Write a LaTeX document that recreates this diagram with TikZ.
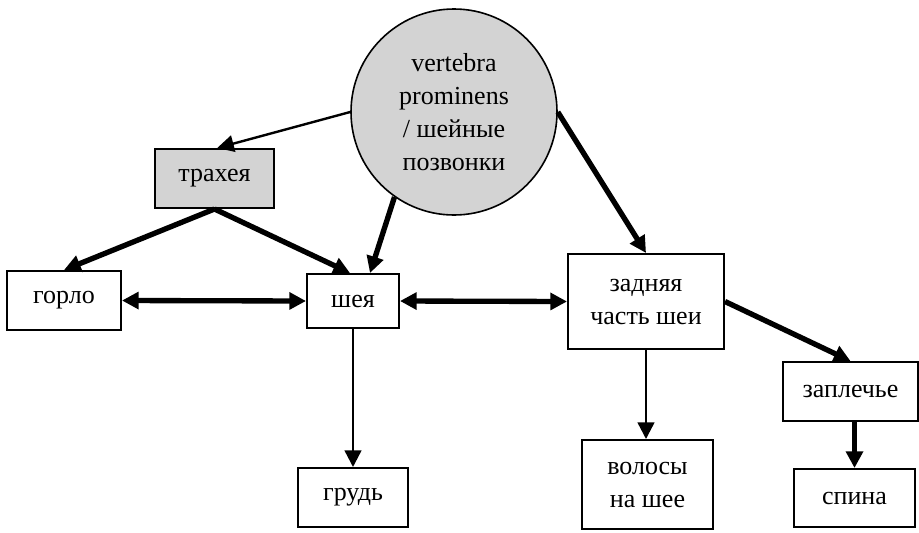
\documentclass[tikz,border=0pt]{standalone}
\usepackage{fontspec}
\setmainfont{Liberation Serif}
\usetikzlibrary{arrows.meta,calc}
\definecolor{boxgray}{RGB}{211,211,211}
\tikzset{
  lbl/.style={font=\fontsize{19.5}{24.75}\selectfont, align=center, inner sep=0pt},
  box/.style={lbl, draw, line width=1.5pt, rectangle},
  graybox/.style={box, fill=boxgray},
  circnode/.style={lbl, draw, line width=1.2pt, circle, fill=boxgray},
  thinarr/.style={line width=1.8pt, -{Triangle[length=12.5pt,width=12.5pt]}},
  fatarr/.style={line width=4pt, -{Triangle[length=12.5pt,width=12.5pt]}},
  dblarr/.style={line width=4pt, {Triangle[length=12.5pt,width=12.5pt]}-{Triangle[length=12.5pt,width=12.5pt]}}
}
\begin{document}
\begin{tikzpicture}[x=0.75pt,y=-0.75pt]
\useasboundingbox (0,0) rectangle (919,532);
\node[circnode, minimum size=154.5pt] (vp) at (454,112) {vertebra\\prominens\\/ шейные\\позвонки};
\node[graybox, minimum width=89.25pt, minimum height=44.25pt] (tr) at (214.5,178.5) {трахея};
\node[box, minimum width=85.5pt, minimum height=44.25pt] (go) at (64,300.5) {горло};
\node[box, minimum width=69pt, minimum height=40.5pt] (sh) at (353,301) {шея};
\node[box, minimum width=117pt, minimum height=71.25pt] (zc) at (646,301.5) {задняя\\часть шеи};
\node[box, minimum width=101.25pt, minimum height=44.25pt] (zp) at (850.5,391.5) {заплечье};
\node[box, minimum width=90.75pt, minimum height=43.5pt] (sp) at (854.5,498) {спина};
\node[box, minimum width=82.5pt, minimum height=44.25pt] (gr) at (353,497.5) {грудь};
\node[box, minimum width=98.25pt, minimum height=66.75pt] (vo) at (647.5,484.5) {волосы\\на шее};
\coordinate (shin) at ([xshift=12.75pt]sh.north);
\coordinate (trin) at ([xshift=-2.25pt]sh.north);
\draw[thinarr] (vp.west) -- ([xshift=2pt]tr.north);
\draw[fatarr] (vp.235) -- (shin);
\draw[fatarr] (tr.south) -- (go.north);
\draw[fatarr] (tr.south) -- (trin);
\draw[dblarr] (go.east) -- (sh.west);
\draw[dblarr] (sh.east) -- (zc.west);
\draw[fatarr] (vp.east) -- (zc.north);
\draw[fatarr] (zc.east) -- (zp.north);
\draw[thinarr] (zc.south) -- (zc.south |- vo.north);
\draw[thinarr] (sh.south) -- (gr.north);
\draw[fatarr] (sp.north |- zp.south) -- (sp.north);
\end{tikzpicture}
\end{document}
